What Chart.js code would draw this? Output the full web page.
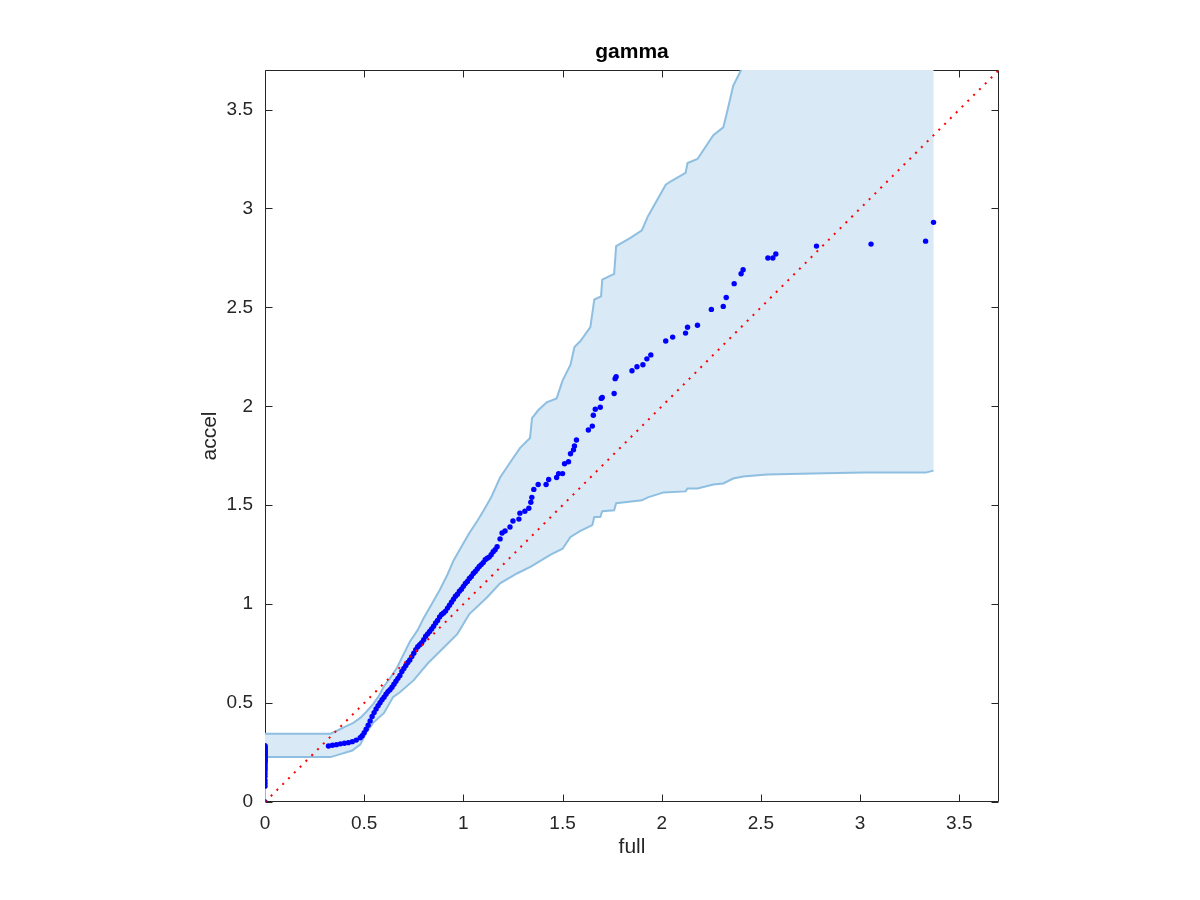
<!DOCTYPE html>
<html>
<head>
<meta charset="utf-8">
<script src="https://cdn.jsdelivr.net/npm/chart.js@4"></script>
<style>
  html, body { margin: 0; padding: 0; background: #ffffff; }
  #wrap { width: 1200px; height: 900px; }
</style>
</head>
<body>
<div id="wrap"><canvas id="c" width="1200" height="900"></canvas></div>
<script>
// ---------- data ----------
const chartTitle = 'gamma';
const xLabel = 'full';
const yLabel = 'accel';
const tickValues = [0, 0.5, 1, 1.5, 2, 2.5, 3, 3.5];
const tickLabels = ['0', '0.5', '1', '1.5', '2', '2.5', '3', '3.5'];
const axisMin = 0;
const axisMax = 3.7;

// reference line y = x
const refLine = [[0, 0], [3.7, 3.7]];

// upper edge of confidence band
const bandUpper = [
  [0,0.345],[0.33,0.345],[0.37,0.364],[0.41,0.384],[0.445,0.40],[0.48,0.425],[0.51,0.455],
  [0.545,0.495],[0.57,0.53],[0.6,0.585],[0.63,0.625],[0.666,0.68],[0.70,0.75],[0.73,0.81],
  [0.77,0.87],[0.80,0.93],[0.84,1.0],[0.88,1.07],[0.92,1.15],[0.95,1.22],[0.99,1.29],
  [1.03,1.36],[1.07,1.42],[1.10,1.47],[1.14,1.54],[1.185,1.64],[1.245,1.73],[1.286,1.79],
  [1.336,1.84],[1.346,1.94],[1.377,1.98],[1.42,2.02],[1.47,2.04],[1.50,2.13],[1.54,2.21],
  [1.56,2.30],[1.59,2.33],[1.64,2.40],[1.65,2.47],[1.66,2.54],[1.694,2.556],[1.70,2.64],
  [1.76,2.67],[1.77,2.81],[1.84,2.85],[1.90,2.89],[1.93,2.96],[2.02,3.12],[2.05,3.14],
  [2.12,3.18],[2.13,3.23],[2.18,3.25],[2.26,3.37],[2.31,3.41],[2.33,3.49],[2.36,3.62],
  [2.40,3.70],[2.45,3.85],[3.37,3.85]
];

// lower edge of confidence band
const bandLower = [
  [0,0],[0,0.227],[0.33,0.227],[0.38,0.242],[0.44,0.26],[0.48,0.29],[0.51,0.35],[0.545,0.40],
  [0.60,0.45],[0.645,0.53],[0.68,0.555],[0.75,0.616],[0.82,0.70],[0.90,0.78],[0.97,0.85],
  [1.03,0.95],[1.12,1.035],[1.185,1.105],[1.27,1.155],[1.34,1.19],[1.44,1.25],[1.50,1.28],
  [1.54,1.34],[1.59,1.37],[1.65,1.40],[1.66,1.44],[1.69,1.44],[1.70,1.47],[1.76,1.475],
  [1.77,1.51],[1.90,1.525],[1.93,1.54],[2.01,1.565],[2.12,1.57],[2.13,1.585],[2.18,1.585],
  [2.26,1.605],[2.31,1.61],[2.36,1.635],[2.41,1.645],[2.53,1.655],[2.76,1.66],[3.02,1.665],
  [3.33,1.665],[3.37,1.675]
];

// quantile points: column at full = 0
const zeroColumnY = [0,0.08,0.095,0.11,0.13,0.145,0.16,0.17,0.18,0.19,0.20,0.205,0.21,0.215,
  0.22,0.225,0.23,0.235,0.24,0.245,0.25,0.255,0.26,0.265,0.27,0.275,0.28,0.285];

// quantile points: main curve
const qqPoints = [
  [0.32,0.283],[0.34,0.287],[0.36,0.290],[0.38,0.294],[0.40,0.297],[0.42,0.300],[0.44,0.305],
  [0.46,0.313],[0.48,0.325],[0.49,0.335],[0.50,0.350],[0.51,0.368],[0.52,0.388],[0.53,0.410],
  [0.54,0.432],[0.55,0.452],[0.56,0.470],[0.57,0.487],[0.58,0.502],[0.59,0.517],[0.60,0.530],
  [0.61,0.545],[0.62,0.558],[0.63,0.568],[0.64,0.580],[0.65,0.595],[0.66,0.610],[0.67,0.625],
  [0.68,0.640],[0.69,0.660],[0.70,0.675],[0.71,0.690],[0.72,0.705],[0.73,0.718],[0.74,0.735],
  [0.75,0.752],[0.76,0.770],[0.77,0.785],[0.78,0.795],[0.79,0.805],[0.80,0.820],[0.81,0.838],
  [0.82,0.850],[0.83,0.862],[0.84,0.875],[0.85,0.888],[0.86,0.905],[0.87,0.918],[0.88,0.935],
  [0.89,0.948],[0.90,0.955],[0.91,0.965],[0.92,0.980],[0.93,0.995],[0.94,1.010],[0.95,1.025],
  [0.96,1.040],[0.97,1.050],[0.98,1.065],[0.99,1.075],[1.00,1.090],[1.01,1.105],[1.02,1.115],
  [1.03,1.130],[1.04,1.140],[1.05,1.155],[1.06,1.165],[1.07,1.178],[1.08,1.190],[1.09,1.200],
  [1.10,1.210],[1.11,1.225],[1.12,1.232],[1.13,1.238],[1.14,1.250],[1.15,1.265],[1.16,1.275],
  [1.17,1.29],[1.185,1.33],[1.195,1.36],[1.21,1.37],[1.235,1.39],[1.25,1.42],[1.28,1.43],
  [1.285,1.46],[1.31,1.47],[1.33,1.485],[1.34,1.515],[1.345,1.54],[1.355,1.58],[1.377,1.605],
  [1.417,1.605],[1.43,1.63],[1.47,1.64],[1.48,1.66],[1.50,1.66],[1.51,1.71],[1.53,1.72],
  [1.54,1.76],[1.555,1.78],[1.56,1.80],[1.57,1.83],[1.63,1.88],[1.65,1.90],[1.655,1.955],
  [1.665,1.985],[1.69,1.995],[1.695,2.04],[1.70,2.045],[1.76,2.065],[1.765,2.14],[1.77,2.15],
  [1.85,2.18],[1.875,2.20],[1.905,2.21],[1.925,2.24],[1.945,2.26],[2.02,2.33],[2.055,2.35],
  [2.12,2.37],[2.13,2.40],[2.18,2.41],[2.25,2.49],[2.31,2.505],[2.325,2.55],[2.365,2.62],
  [2.40,2.67],[2.41,2.69],[2.535,2.75],[2.56,2.75],[2.575,2.77],[2.78,2.81],[3.055,2.82],
  [3.33,2.835],[3.37,2.93]
];

// ---------- build ----------
const toXY = arr => arr.map(p => ({x: p[0], y: p[1]}));
const bandPolygon = toXY(bandUpper.concat(bandLower.slice().reverse()));
const qqAll = zeroColumnY.map(v => ({x: 0, y: v})).concat(toXY(qqPoints));

const FONT = "'Liberation Sans', Arial, Helvetica, sans-serif";
const TXT = '#262626';

const boxPlugin = {
  id: 'boxTicks',
  beforeDatasetsDraw(chart) {
    const {ctx, chartArea: a, scales} = chart;
    const L = Math.round(a.left) + 0.5, R = Math.round(a.right) - 0.5;
    const T = Math.round(a.top) + 0.5, B = Math.round(a.bottom) - 0.5;
    ctx.save();
    ctx.strokeStyle = TXT;
    ctx.lineWidth = 1;
    ctx.beginPath();
    ctx.rect(L, T, R - L, B - T);
    const tl = 7;
    tickValues.forEach(v => {
      const px = Math.round(scales.x.getPixelForValue(v)) + 0.5;
      ctx.moveTo(px, B); ctx.lineTo(px, B - tl);
      ctx.moveTo(px, T); ctx.lineTo(px, T + tl);
      const py = Math.round(scales.y.getPixelForValue(v)) + 0.5;
      ctx.moveTo(L, py); ctx.lineTo(L + tl, py);
      ctx.moveTo(R, py); ctx.lineTo(R - tl, py);
    });
    ctx.stroke();
    // title centred over the plot box
    ctx.fillStyle = '#000000';
    ctx.font = "bold 21px " + FONT;
    ctx.textAlign = 'center';
    ctx.textBaseline = 'middle';
    ctx.fillText(chartTitle, (a.left + a.right) / 2, a.top - 18);
    ctx.restore();
  }
};

const fixTicks = scale => { scale.ticks = tickValues.map(v => ({value: v})); };

new Chart(document.getElementById('c'), {
  type: 'line',
  data: {
    datasets: [
      {
        label: 'band',
        data: bandPolygon,
        order: 5,
        fill: 'shape',
        backgroundColor: '#d9e9f5',
        borderWidth: 0,
        borderColor: 'rgba(0,0,0,0)',
        pointRadius: 0,
        tension: 0
      },
      {
        label: 'upper',
        data: toXY(bandUpper),
        order: 4,
        fill: false,
        borderColor: '#8ebfe1',
        borderWidth: 2,
        pointRadius: 0,
        tension: 0
      },
      {
        label: 'lower',
        data: toXY(bandLower),
        order: 3,
        fill: false,
        borderColor: '#8ebfe1',
        borderWidth: 2,
        pointRadius: 0,
        tension: 0
      },
      {
        label: 'qq',
        data: qqAll,
        order: 2,
        showLine: false,
        pointRadius: 2.7,
        pointBorderWidth: 0,
        pointBackgroundColor: '#0000ff',
        pointBorderColor: '#0000ff'
      },
      {
        label: 'ref',
        data: toXY(refLine),
        order: 1,
        fill: false,
        borderColor: '#ff0000',
        borderWidth: 2,
        borderDash: [2, 6.2],
        pointRadius: 0,
        tension: 0
      }
    ]
  },
  options: {
    responsive: false,
    animation: false,
    events: [],
    layout: { padding: { left: 190, right: 201, top: 70, bottom: 28 } },
    plugins: {
      legend: { display: false },
      tooltip: { enabled: false },
      title: { display: false }
    },
    scales: {
      x: {
        type: 'linear',
        min: axisMin,
        max: axisMax,
        border: { display: false },
        grid: { display: false, drawTicks: false },
        afterBuildTicks: fixTicks,
        afterFit: s => { s.height = 70; },
        ticks: {
          color: TXT,
          padding: 10,
          maxRotation: 0,
          autoSkip: false,
          font: { family: FONT, size: 19 },
          callback: (v, i) => tickLabels[i]
        },
        title: {
          display: true,
          text: xLabel,
          color: TXT,
          font: { family: FONT, size: 21, lineHeight: 1.2 },
          padding: { top: 0, bottom: 12.4 }
        }
      },
      y: {
        type: 'linear',
        min: axisMin,
        max: axisMax,
        border: { display: false },
        grid: { display: false, drawTicks: false },
        afterBuildTicks: fixTicks,
        afterFit: s => { s.width = 75; },
        ticks: {
          color: TXT,
          padding: 12,
          autoSkip: false,
          font: { family: FONT, size: 19 },
          callback: (v, i) => tickLabels[i]
        },
        title: {
          display: true,
          text: yLabel,
          color: TXT,
          font: { family: FONT, size: 21, lineHeight: 1.2 },
          padding: { top: 7.4, bottom: 0 }
        }
      }
    }
  },
  plugins: [boxPlugin]
});
</script>
</body>
</html>
